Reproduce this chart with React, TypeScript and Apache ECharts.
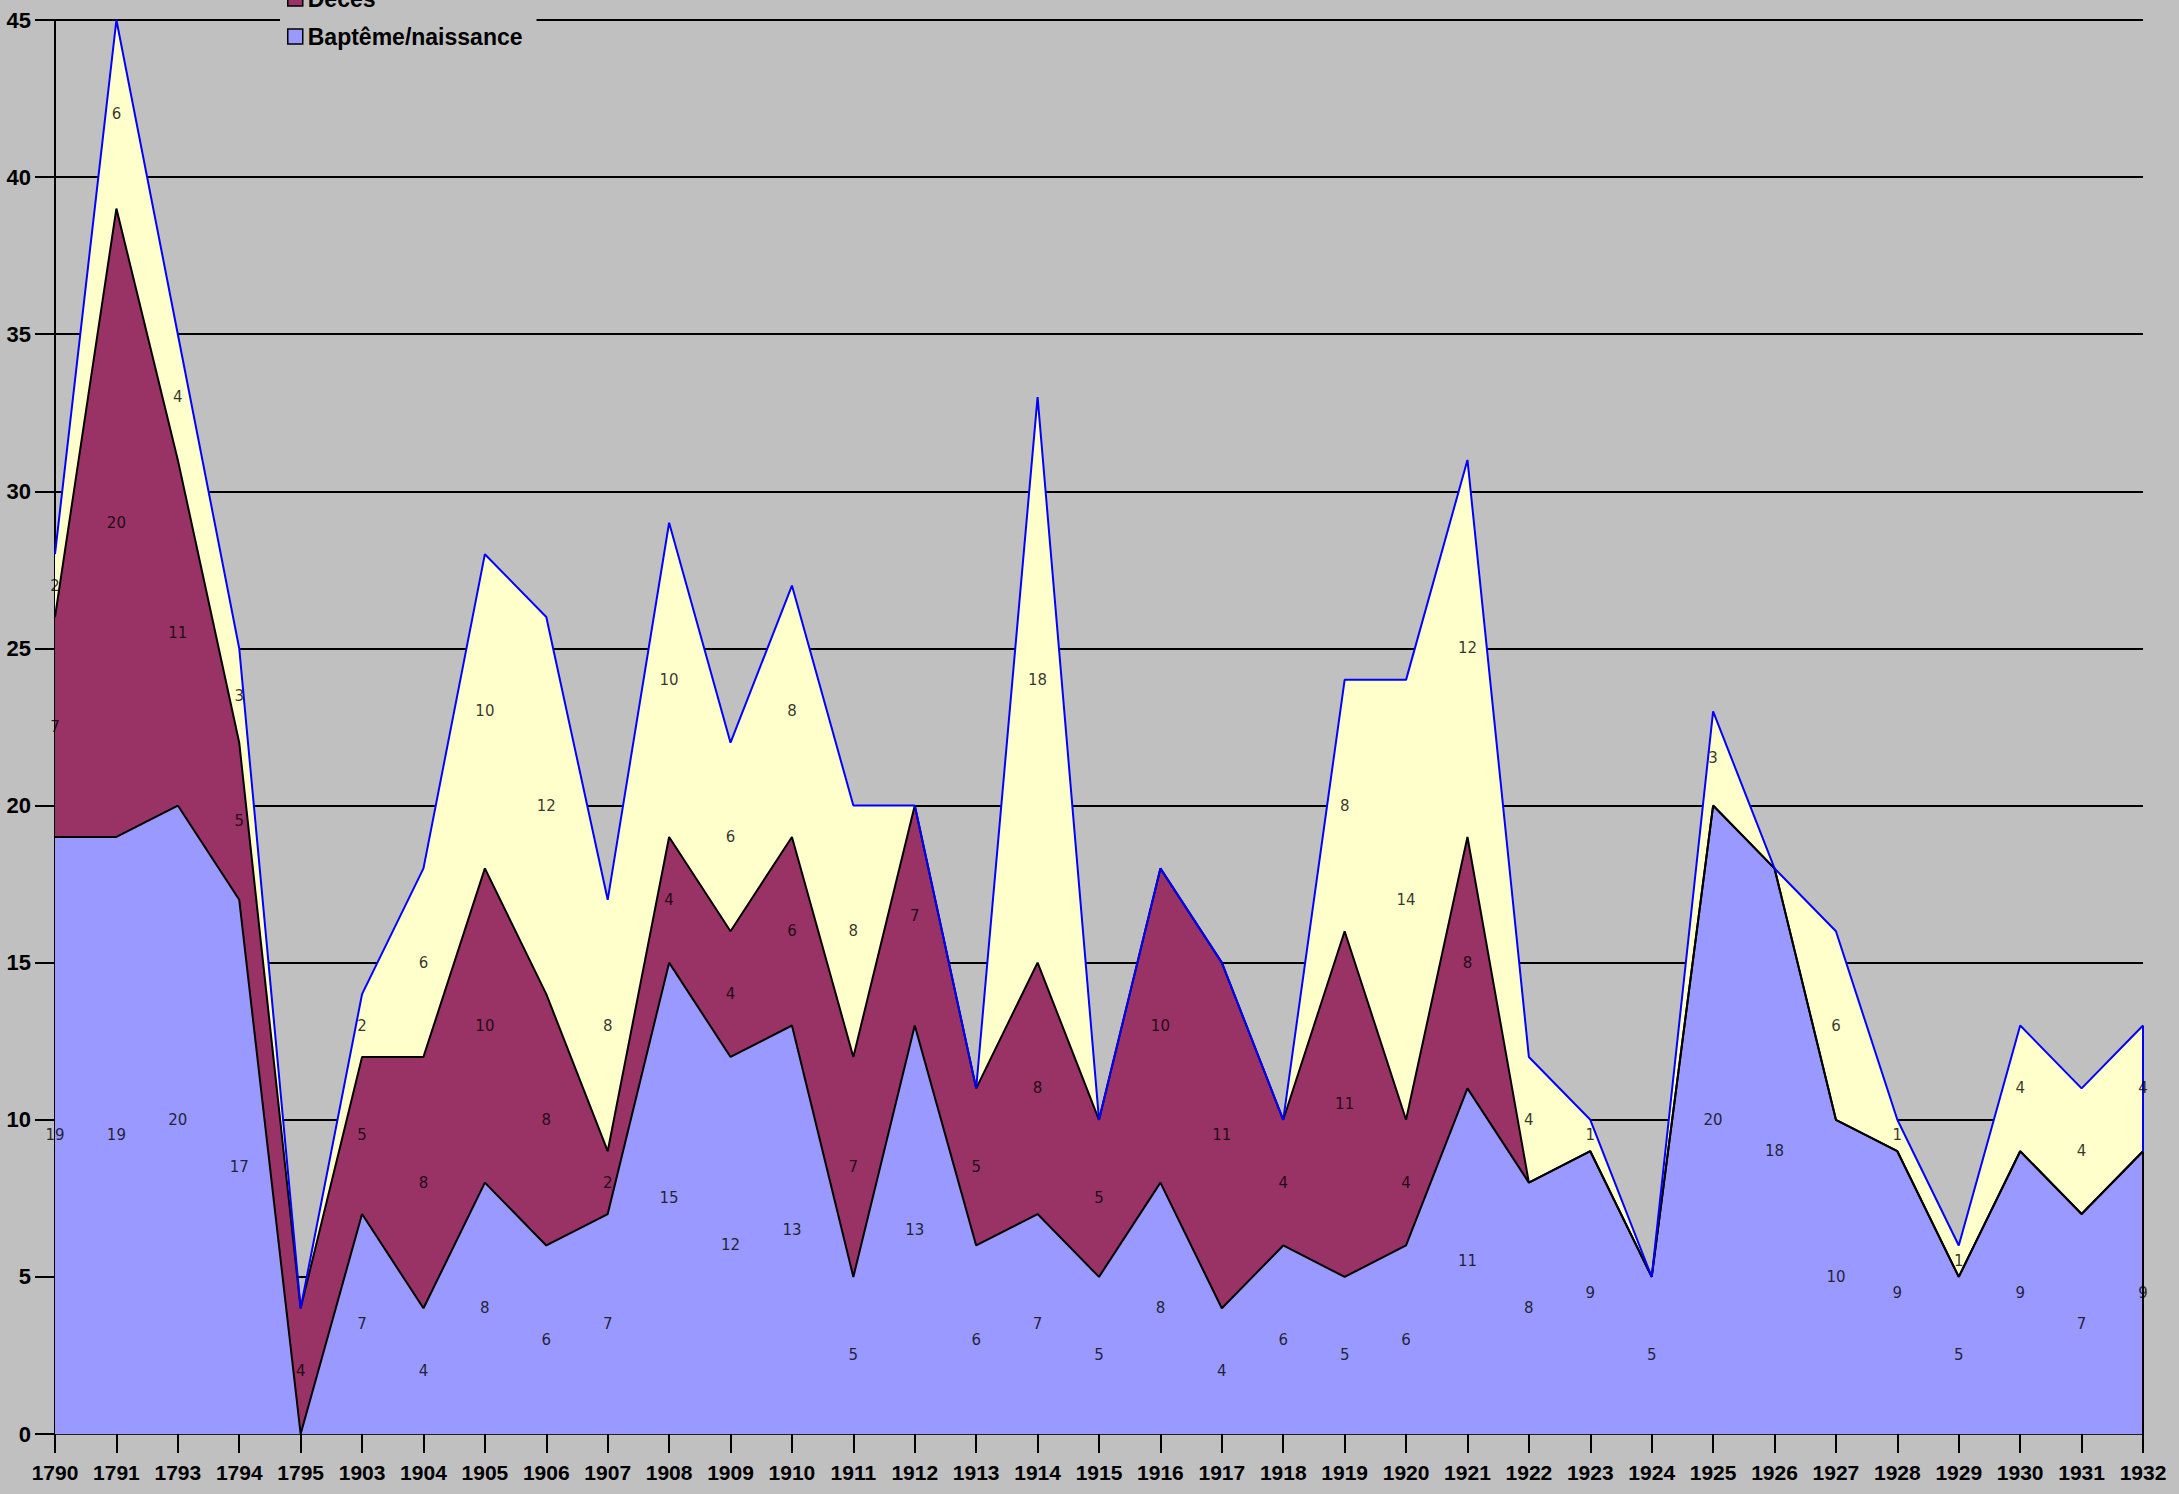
import React, { useEffect, useRef } from "react";
import * as echarts from "echarts";

const categories = [
  "1790", "1791", "1793", "1794", "1795",
  "1903", "1904", "1905", "1906", "1907", "1908", "1909", "1910", "1911", "1912",
  "1913", "1914", "1915", "1916", "1917", "1918", "1919", "1920", "1921", "1922",
  "1923", "1924", "1925", "1926", "1927", "1928", "1929", "1930", "1931", "1932",
];

const bapteme = [19, 19, 20, 17, 0, 7, 4, 8, 6, 7, 15, 12, 13, 5, 13, 6, 7, 5, 8, 4, 6, 5, 6, 11, 8, 9, 5, 20, 18, 10, 9, 5, 9, 7, 9];
const deces = [7, 20, 11, 5, 4, 5, 8, 10, 8, 2, 4, 4, 6, 7, 7, 5, 8, 5, 10, 11, 4, 11, 4, 8, 0, 0, 0, 0, 0, 0, 0, 0, 0, 0, 0];
const troisieme = [2, 6, 4, 3, 0, 2, 6, 10, 12, 8, 10, 6, 8, 8, 0, 0, 18, 0, 0, 0, 0, 8, 14, 12, 4, 1, 0, 3, 0, 6, 1, 1, 4, 4, 4];

const yTicks = { min: 0, max: 45, interval: 5 };

const seriesDefs = [
  { name: "Baptême/naissance", values: bapteme, fill: "#9999FF", line: "#000000" },
  { name: "Décès", values: deces, fill: "#993366", line: "#000000" },
  { name: "Mariage", values: troisieme, fill: "#FFFFCC", line: "#0000FF" },
];

export default function App() {
  const ref = useRef<HTMLDivElement>(null);

  useEffect(() => {
    if (!ref.current) return;
    const chart = echarts.init(ref.current, null, { renderer: "svg" });
    const last = categories.length - 1;
    const lastCat = categories[last];

    const areaSeries: any[] = seriesDefs.map((s) => ({
      name: s.name,
      type: "line",
      stack: "areas",
      symbol: "none",
      data: s.values,
      itemStyle: { color: s.fill },
      lineStyle: { width: 0, opacity: 0 },
      areaStyle: { color: s.fill, opacity: 1 },
      z: 2,
    }));

    const lineSeries: any[] = seriesDefs.map((s, si) => {
      let base = 0;
      for (let k = 0; k < si; k++) base += seriesDefs[k].values[last];
      const top = base + s.values[last];
      return {
        name: s.name + " (ligne)",
        type: "line",
        stack: "lines",
        symbol: "none",
        clip: false,
        data: s.values,
        lineStyle: { color: s.line, width: 2 },
        z: 3,
        markLine:
          top > base
            ? {
                silent: true,
                symbol: "none",
                label: { show: false },
                lineStyle: { color: s.line, width: 2, type: "solid" },
                data: [[{ coord: [lastCat, base] }, { coord: [lastCat, top] }]],
              }
            : undefined,
      };
    });

    // labels at the middle of each band
    const labelSeries: any[] = seriesDefs.map((s, si) => {
      const pts: any[] = [];
      categories.forEach((c, i) => {
        let base = 0;
        for (let k = 0; k < si; k++) base += seriesDefs[k].values[i];
        const v = s.values[i];
        if (v > 0) pts.push([c, base + v / 2, v]);
      });
      return {
        name: s.name + " (étiquettes)",
        type: "scatter",
        symbolSize: 0,
        data: pts,
        z: 5,
        label: {
          show: true,
          position: "inside",
          formatter: (p: any) => String(p.value[2]),
          color: "#000",
          fontFamily: "DejaVu Sans",
          fontSize: 15,
        },
      };
    });

    chart.setOption({
      animation: false,
      backgroundColor: "#C0C0C0",
      grid: { left: 55, right: 36, top: 20, bottom: 60, containLabel: false },
      legend: {
        data: ["Décès", "Baptême/naissance"],
        orient: "vertical",
        left: 280,
        top: -18,
        padding: [5, 14, 5, 7],
        itemGap: 15,
        itemWidth: 15,
        itemHeight: 15,
        icon: "rect",
        backgroundColor: "#C0C0C0",
        itemStyle: { borderColor: "#000", borderWidth: 1.5 },
        textStyle: {
          fontFamily: "Liberation Sans, Arial, sans-serif",
          fontWeight: "bold",
          fontSize: 23,
          color: "#000",
        },
        selectedMode: false,
      },
      xAxis: {
        type: "category",
        data: categories,
        boundaryGap: false,
        axisLine: { lineStyle: { color: "#222", width: 2 } },
        axisTick: { show: true, length: 19, lineStyle: { color: "#000", width: 2 } },
        axisLabel: {
          interval: 0,
          margin: 28,
          color: "#000",
          fontFamily: "Liberation Sans, Arial, sans-serif",
          fontWeight: "bold",
          fontSize: 21,
        },
        splitLine: { show: false },
      },
      yAxis: {
        type: "value",
        min: yTicks.min,
        max: yTicks.max,
        interval: yTicks.interval,
        axisLine: { show: true, lineStyle: { color: "#000", width: 2 } },
        axisTick: { show: true, length: 20, lineStyle: { color: "#000", width: 2 } },
        axisLabel: {
          margin: 24,
          color: "#000",
          fontFamily: "Liberation Sans, Arial, sans-serif",
          fontWeight: "bold",
          fontSize: 22,
        },
        splitLine: { show: true, lineStyle: { color: "#000", width: 2 } },
      },
      series: [...areaSeries, ...lineSeries, ...labelSeries],
    });

    return () => chart.dispose();
  }, []);

  return (
    <div
      ref={ref}
      style={{ position: "fixed", left: 0, top: 0, width: 2179, height: 1494 }}
    />
  );
}
